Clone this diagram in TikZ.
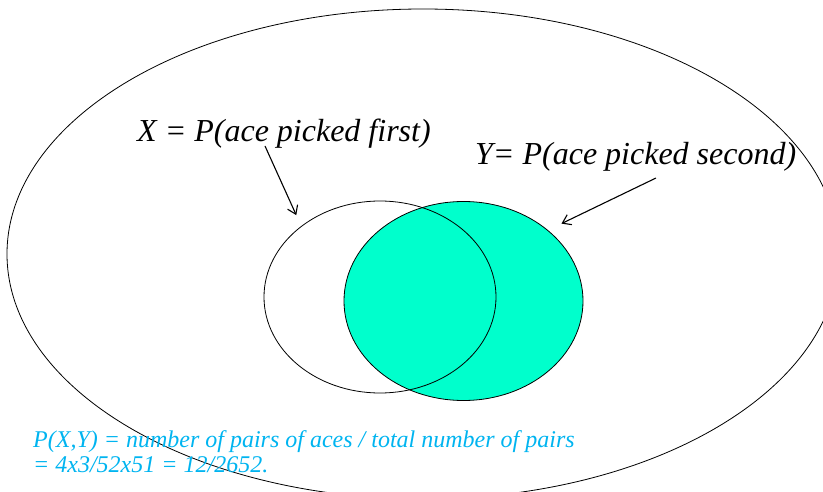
\documentclass[tikz,border=0pt]{standalone}
\usepackage{fontspec}
\setmainfont{LiberationSerif}[Extension=.ttf, UprightFont=*-Regular, ItalicFont=*-Italic, BoldFont=*-Bold]
\usetikzlibrary{shapes.geometric,arrows.meta}
\definecolor{setfill}{RGB}{0,255,204}
\definecolor{notecol}{RGB}{0,180,240}
\begin{document}
\begin{tikzpicture}[
    x=1pt, y=-1pt,
    >={Straight Barb[length=8pt,width=11pt]},
    set/.style={
        draw,
        ellipse,
        inner sep=0pt,
        line width=0.8pt
    },
    lab/.style={
        font=\fontsize{32}{38}\selectfont\itshape,
        inner sep=0pt,
        anchor=base west
    },
    arr/.style={->, line width=1.1pt}
]
    \useasboundingbox (0,0) rectangle (823,492);
    \clip (0,0) rectangle (823,492);

    % Sample space
    \node[set, minimum width=832pt, minimum height=490pt] (omega) at (423,254) {};

    % Events
    \node[set, fill=setfill, minimum width=239pt, minimum height=199pt] (yset) at (463.5,301) {};
    \node[set, minimum width=232pt, minimum height=192pt] (xset) at (380,297) {};

    % Labels
    \node[lab] (xlab) at (137,142) {X = P(ace picked first)};
    \node[lab] (ylab) at (475,165) {Y= P(ace picked second)};

    % Arrows label -> event
    \coordinate (xfrom) at (265,146);
    \coordinate (yfrom) at (656,178);
    \draw[arr, shorten >=12pt] (xfrom) -- (xset.138.5);
    \draw[arr, shorten >=15pt] (yfrom) -- (yset.40);

    % Joint probability
    \node[
        inner sep=0pt,
        anchor=base west,
        align=left,
        text=notecol,
        font=\fontsize{24}{25}\selectfont\itshape
    ] (pxy) at (33,472) {P(X,Y) = number of pairs of aces / total number of pairs\\= 4x3/52x51 = 12/2652.};

\end{tikzpicture}
\end{document}
